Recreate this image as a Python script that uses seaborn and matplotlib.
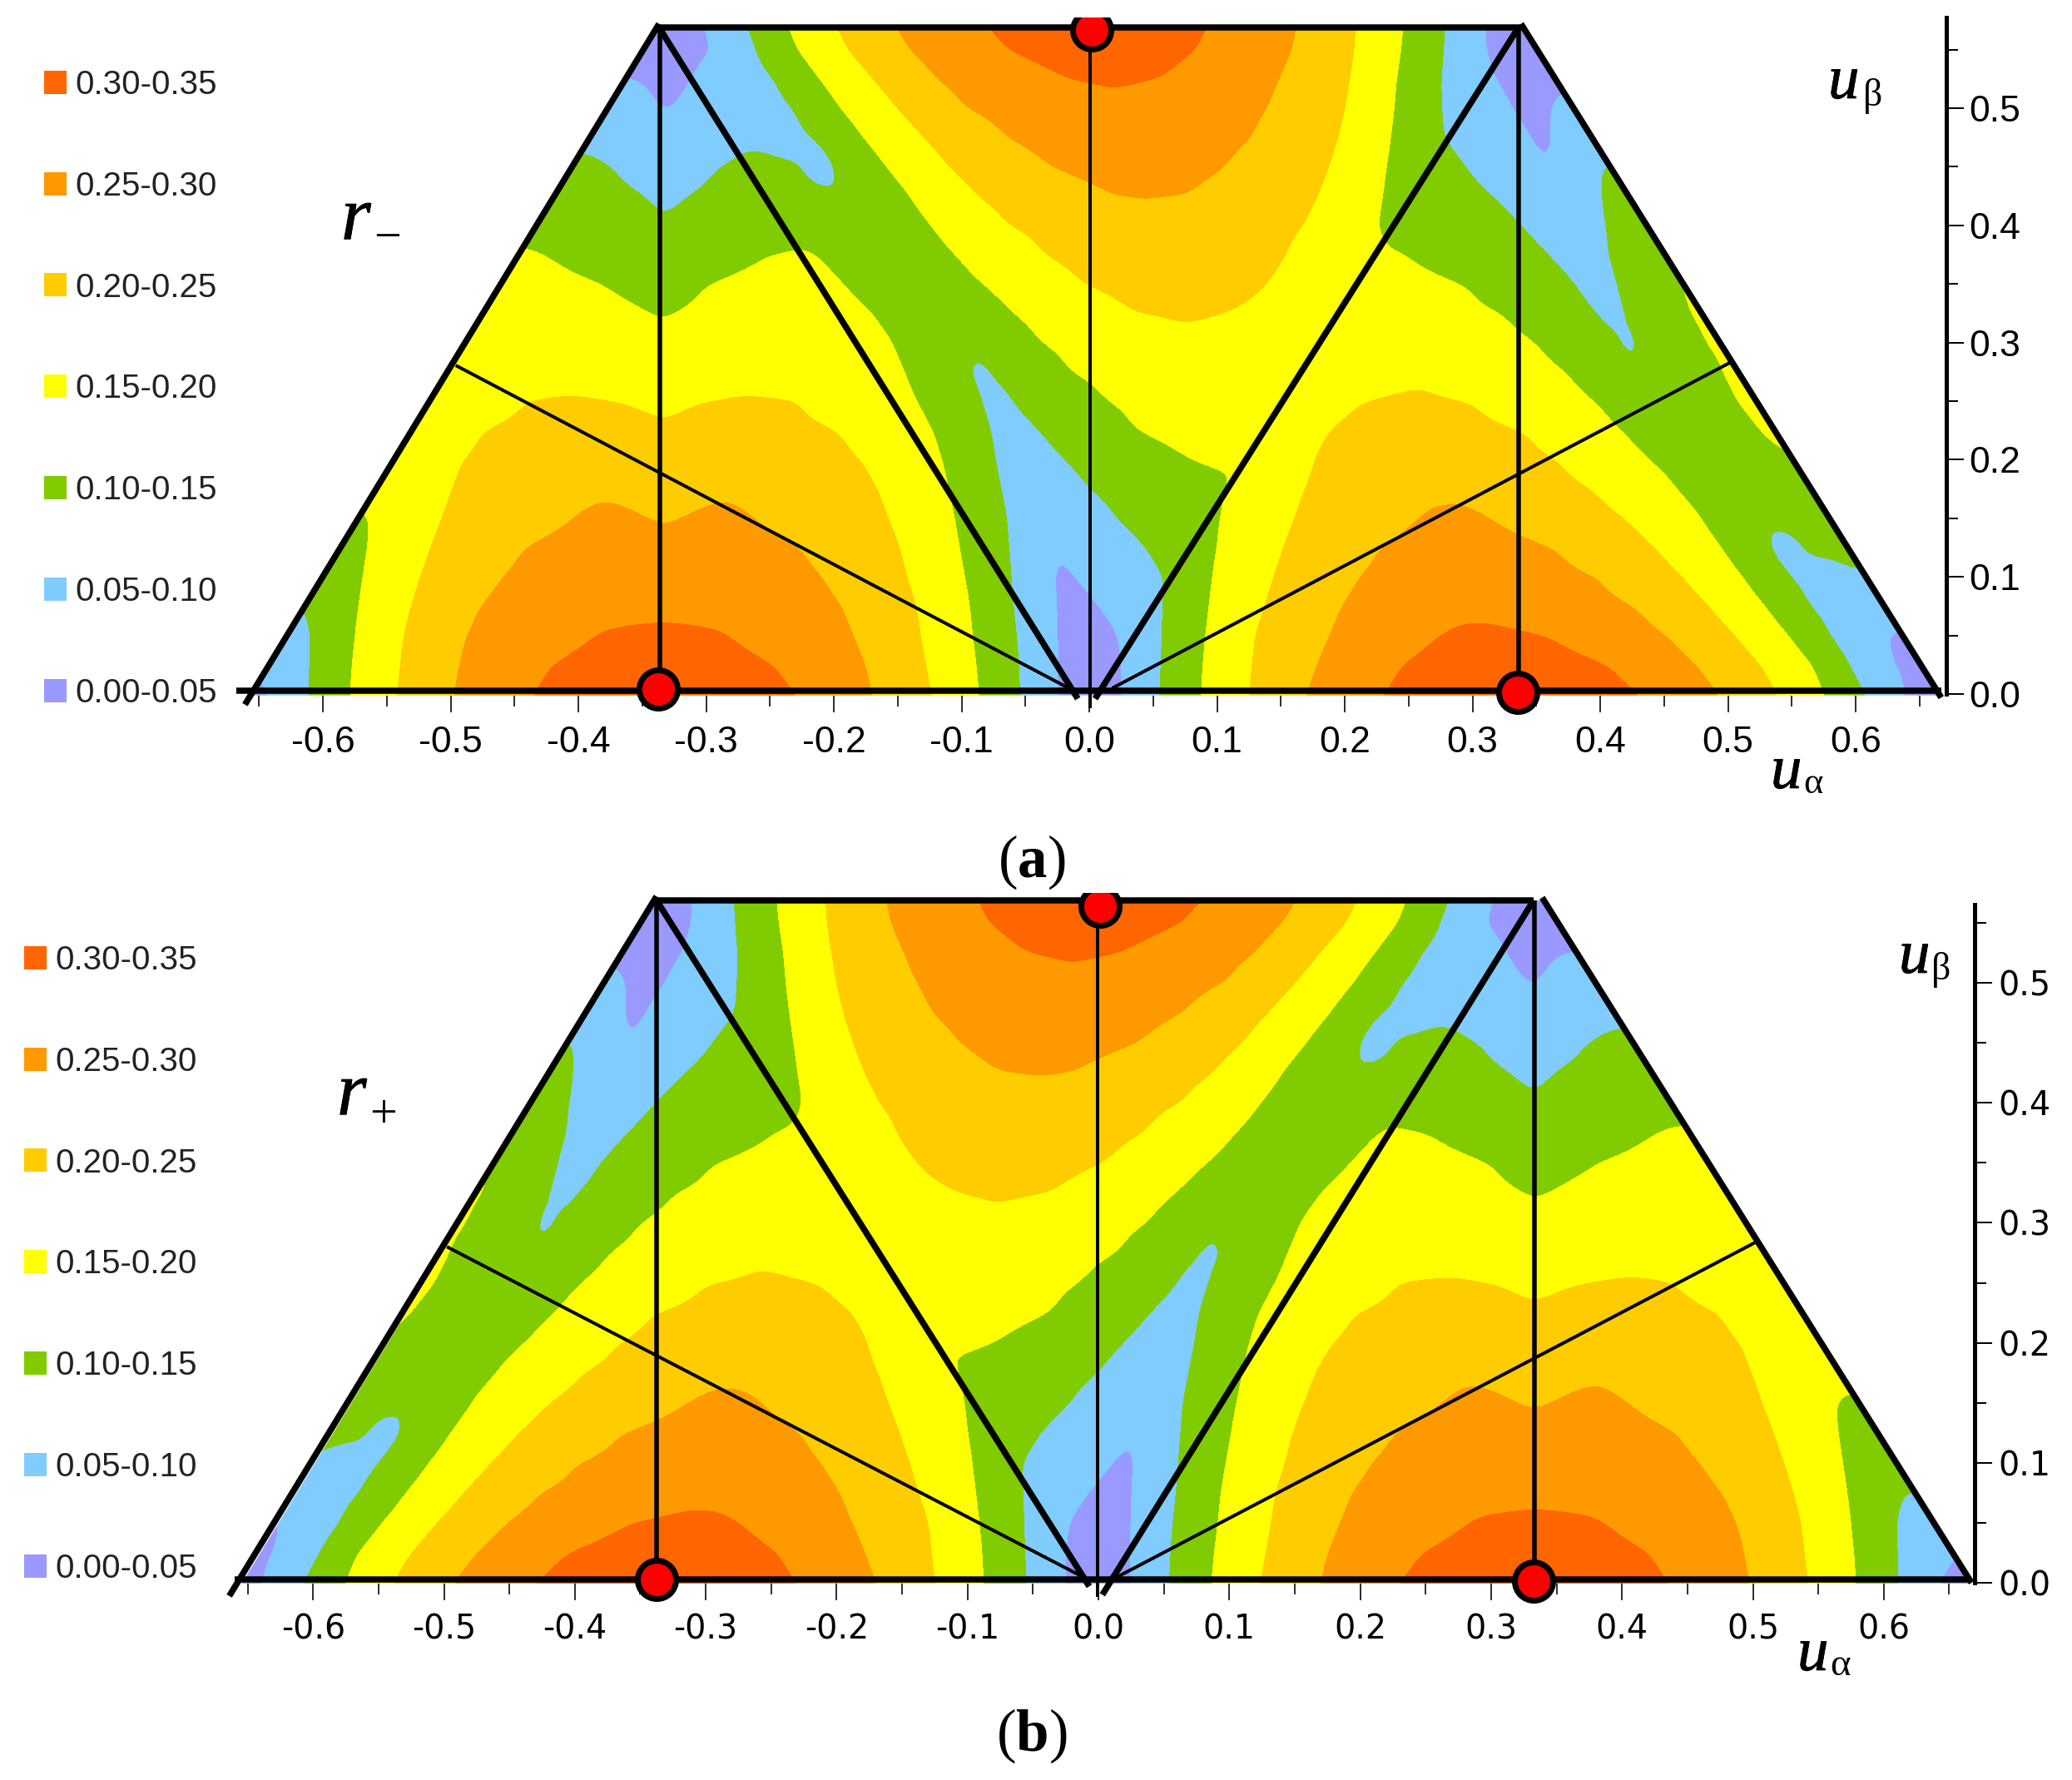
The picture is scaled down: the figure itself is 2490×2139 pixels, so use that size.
import numpy as np
import seaborn as sns
import matplotlib
matplotlib.use('Agg')
import matplotlib.pyplot as plt
import matplotlib.patheffects as pe
from matplotlib.patches import Patch, Polygon

W, H = 2490, 2139

# band edges and colours
levels = [0, 0.05, 0.10, 0.15, 0.20, 0.25, 0.30, 0.36]
band_labels = ['0.00-0.05', '0.05-0.10', '0.10-0.15', '0.15-0.20', '0.20-0.25', '0.25-0.30', '0.30-0.35']
band_colors = ['#9999ff', '#80ccff', '#80cc00', '#ffff00', '#ffcc00', '#ff9900', '#ff6600']

row_y = [-0.002, 0.025, 0.05, 0.075, 0.10, 0.125, 0.15, 0.175, 0.195, 0.20, 0.225, 0.25, 0.275, 0.30, 0.325, 0.35, 0.375, 0.40, 0.425, 0.45, 0.475, 0.50, 0.525, 0.55, 0.58]
row_00 = [(-.667,.03),(-.64,.05),(-.611,.10),(-.579,.15),(-.5425,.20),(-.498,.25),(-.438,.30),(-.333,.345),(-.2266,.30),(-.169,.25),(-.123,.20),(-.086,.15),(-.054,.10),(-.025,.05),(0,.02),(.026,.05),(.0547,.10),(.0873,.15),(.1244,.20),(.169,.25),(.2275,.30),(.333,.345),(.4346,.30),(.4946,.25),(.54,.20),(.5766,.15),(.6084,.10),(.6365,.05),(.667,.03)]
row_02 = [(-.653,.05),(-.6097,.10),(-.5775,.15),(-.5396,.20),(-.4941,.25),(-.4223,.30),(-.333,.33),(-.2455,.30),(-.1746,.25),(-.1277,.20),(-.0881,.15),(-.055,.10),(-.026,.05),(0,.025),(.0264,.05),(.056,.10),(.0886,.15),(.127,.20),(.178,.25),(.2436,.30),(.32,.33),(.4073,.30),(.4756,.25),(.5255,.20),(.5668,.15),(.5948,.10),(.6254,.05),(.66,.04)]
row_05 = [(-.64,.07),(-.6085,.10),(-.575,.15),(-.5373,.20),(-.489,.25),(-.387,.30),(-.333,.312),(-.283,.30),(-.1835,.25),(-.1316,.20),(-.091,.15),(-.0566,.10),(-.0267,.05),(0,.03),(.024,.05),(.0569,.10),(.0907,.15),(.129,.20),(.1876,.25),(.273,.30),(.31,.312),(.358,.30),(.452,.25),(.5056,.20),(.548,.15),(.5785,.10),(.618,.05),(.65,.045)]
row_07 = [(-.615,.098),(-.5719,.15),(-.5313,.20),(-.4785,.25),(-.38,.29),(-.333,.285),(-.285,.29),(-.192,.25),(-.1347,.20),(-.0931,.15),(-.0593,.10),(-.028,.05),(-.01,.04),(.0088,.05),(.0586,.10),(.0932,.15),(.1368,.20),(.1961,.25),(.29,.29),(.4274,.25),(.4853,.20),(.5296,.15),(.562,.10),(.62,.06)]
row_10 = [(-.60,.12),(-.568,.15),(-.5244,.20),(-.4612,.25),(-.38,.275),(-.333,.268),(-.285,.275),(-.2076,.25),(-.142,.20),(-.097,.15),(-.0608,.10),(-.030,.05),(-.02,.045),(-.009,.05),(.06,.10),(.0958,.15),(.1436,.20),(.21,.25),(.29,.275),(.3996,.25),(.4645,.20),(.512,.15),(.546,.10),(.58,.08),(.607,.095)]
row_12 = [(-.587,.135),(-.5637,.15),(-.5166,.20),(-.4443,.25),(-.38,.27),(-.333,.258),(-.285,.27),(-.2247,.25),(-.1472,.20),(-.1012,.15),(-.0625,.10),(-.03,.05),(-.025,.05),(.045,.10),(.1003,.15),(.1511,.20),(.226,.25),(.29,.27),(.366,.25),(.443,.20),(.4954,.15),(.5316,.10),(.545,.085),(.56,.10),(.595,.12)]
row_15 = [(-.572,.145),(-.5615,.15),(-.508,.20),(-.4045,.25),(-.38,.2655),(-.344,.25),(-.333,.248),(-.321,.25),(-.285,.2655),(-.2625,.25),(-.1557,.20),(-.105,.15),(-.0645,.10),(-.03,.054),(.0208,.10),(.06,.125),(.1036,.15),(.1596,.20),(.2567,.25),(.289,.2655),(.3147,.25),(.4196,.20),(.479,.15),(.525,.097),(.5785,.13)]
row_17 = [(-.5562,.16),(-.5003,.20),(-.38,.24),(-.333,.228),(-.285,.24),(-.1635,.20),(-.1094,.15),(-.0697,.10),(-.04,.07),(-.0007,.10),(.06,.13),(.1091,.15),(.1668,.20),(.27,.24),(.394,.20),(.4587,.15),(.51,.115),(.5642,.135)]
row_19 = [(-.544,.165),(-.4945,.20),(-.38,.228),(-.333,.213),(-.28,.228),(-.173,.20),(-.113,.15),(-.0742,.10),(-.047,.08),(-.0155,.10),(.06,.14),(.118,.15),(.1735,.20),(.27,.228),(.3715,.20),(.442,.15),(.495,.125),(.552,.14)]
row_20 = [(-.5407,.165),(-.4925,.20),(-.38,.225),(-.333,.21),(-.28,.225),(-.177,.20),(-.1143,.15),(-.0748,.10),(-.05,.082),(-.0184,.10),(.0788,.15),(.1752,.20),(.27,.225),(.368,.20),(.4375,.15),(.49,.125),(.548,.15),(.5514,.151)]
row_22 = [(-.527,.168),(-.4769,.20),(-.39,.214),(-.333,.204),(-.275,.214),(-.1935,.20),(-.1212,.15),(-.0788,.10),(-.06,.088),(-.0384,.10),(.0339,.15),(.1876,.20),(.26,.214),(.3417,.20),(.4156,.15),(.47,.115),(.5244,.15),(.5368,.155)]
row_25 = [(-.5186,.17),(-.4406,.20),(-.405,.204),(-.3667,.20),(-.333,.193),(-.304,.20),(-.27,.204),(-.228,.20),(-.1335,.15),(-.086,.10),(-.07,.09),(-.0593,.10),(.013,.15),(.0756,.165),(.2137,.20),(.256,.204),(.3,.20),(.396,.15),(.45,.11),(.506,.15),(.526,.16)]
row_27 = [(-.503,.165),(-.44,.19),(-.333,.175),(-.225,.19),(-.1427,.15),(-.0945,.10),(-.085,.093),(-.0749,.10),(-.0163,.15),(.0756,.18),(.16,.18),(.26,.195),(.3743,.15),(.4304,.10),(.435,.093),(.44,.10),(.4945,.15),(.5085,.157)]
row_30 = [(-.487,.165),(-.44,.185),(-.333,.158),(-.225,.185),(-.1524,.15),(-.11,.11),(-.09,.102),(-.039,.15),(.0756,.19),(.16,.175),(.26,.185),(.3508,.15),(.4159,.10),(.42,.09),(.4287,.10),(.4808,.15),(.492,.155)]
row_32 = [(-.4717,.165),(-.42,.175),(-.3423,.15),(-.333,.148),(-.3264,.15),(-.225,.178),(-.1687,.15),(-.11,.11),(-.0602,.15),(.0358,.20),(.0756,.205),(.1062,.20),(.2,.175),(.3238,.15),(.396,.10),(.41,.09),(.42,.10),(.4677,.15),(.4808,.155)]
row_35 = [(-.456,.165),(-.382,.15),(-.333,.13),(-.3006,.15),(-.225,.168),(-.192,.15),(-.14,.115),(-.0834,.15),(-.0056,.20),(.0756,.225),(.139,.20),(.2296,.165),(.2964,.15),(.38,.10),(.40,.085),(.4134,.10),(.46,.15),(.4686,.153)]
row_37 = [(-.4423,.153),(-.4254,.15),(-.38,.135),(-.333,.117),(-.2508,.15),(-.2215,.153),(-.2126,.15),(-.16,.115),(-.1042,.15),(-.0367,.20),(.06,.232),(.1554,.20),(.2296,.152),(.2476,.15),(.359,.10),(.385,.085),(.4078,.10),(.4502,.15)]
row_40 = [(-.434,.14),(-.333,.105),(-.225,.14),(-.18,.108),(-.1231,.15),(-.0645,.20),(.044,.2304),(.17,.20),(.224,.15),(.28,.125),(.338,.10),(.37,.085),(.4045,.10),(.4376,.115)]
row_42 = [(-.4163,.125),(-.3459,.10),(-.333,.09),(-.316,.10),(-.25,.122),(-.19,.097),(-.14,.15),(-.0886,.20),(.02,.25),(.044,.252),(.0756,.25),(.1805,.20),(.228,.15),(.3166,.10),(.36,.08),(.4013,.10),(.4231,.11)]
row_45 = [(-.4026,.11),(-.3726,.10),(-.333,.07),(-.2919,.10),(-.26,.108),(-.2264,.10),(-.21,.085),(-.1987,.10),(-.159,.15),(-.1107,.20),(-.0315,.25),(.044,.275),(.1069,.25),(.189,.20),(.2315,.15),(.2948,.10),(.352,.052),(.36,.05),(.372,.055),(.398,.10),(.4104,.105)]
row_47 = [(-.3857,.09),(-.333,.06),(-.27,.095),(-.24,.09),(-.2116,.10),(-.1775,.15),(-.1296,.20),(-.066,.25),(.03,.285),(.129,.25),(.196,.20),(.2358,.15),(.2763,.10),(.3436,.05),(.354,.045),(.3635,.05),(.3974,.08)]
row_50 = [(-.3667,.08),(-.3388,.05),(-.333,.048),(-.325,.05),(-.2287,.10),(-.1955,.15),(-.1505,.20),(-.0984,.25),(.02,.29),(.1407,.25),(.2013,.20),(.2388,.15),(.275,.10),(.329,.05),(.345,.043),(.3616,.05),(.38,.06)]
row_52 = [(-.357,.05),(-.333,.04),(-.3108,.05),(-.2447,.10),(-.2117,.15),(-.1694,.20),(-.1205,.25),(-.0163,.30),(.02,.305),(.0564,.30),(.1495,.25),(.2046,.20),(.2406,.15),(.275,.10),(.3147,.05),(.34,.04),(.359,.045)]
row_55 = [(-.3476,.03),(-.2918,.05),(-.2609,.10),(-.2293,.15),(-.1896,.20),(-.142,.25),(-.066,.30),(.01,.33),(.0855,.30),(.1596,.25),(.208,.20),(.2443,.15),(.2775,.10),(.3075,.05),(.3524,.03)]
row_57 = [(-.34,.03),(-.3,.05),(-.2713,.10),(-.239,.15),(-.2023,.20),(-.1576,.25),(-.0918,.30),(.003,.335),(.0988,.30),(.1642,.25),(.209,.20),(.2467,.15),(.2792,.10),(.3075,.05),(.34,.03)]
rows_minus = [row_00, row_02, row_05, row_07, row_10, row_12, row_15, row_17, row_19, row_20, row_22, row_25, row_27,
              row_30, row_32, row_35, row_37, row_40, row_42, row_45, row_47, row_50, row_52, row_55, row_57]
# the r_+ map is the same map flipped left to right
rows_plus = [[(-u, r) for u, r in reversed(row)] for row in rows_minus]

x_major = [-0.6, -0.5, -0.4, -0.3, -0.2, -0.1, 0.0, 0.1, 0.2, 0.3, 0.4, 0.5, 0.6]
x_minor = [-0.65, -0.55, -0.45, -0.35, -0.25, -0.15, -0.05, 0.05, 0.15, 0.25, 0.35, 0.45, 0.55, 0.65]
x_labels = ['-0.6', '-0.5', '-0.4', '-0.3', '-0.2', '-0.1', '0.0', '0.1', '0.2', '0.3', '0.4', '0.5', '0.6']
y_major = [0.0, 0.1, 0.2, 0.3, 0.4, 0.5]
y_minor = [0.05, 0.15, 0.25, 0.35, 0.45, 0.55]
y_labels = ['0.0', '0.1', '0.2', '0.3', '0.4', '0.5']

# panel a geometry, data units
a_trap = [(-0.6575, -0.0012), (-0.3368, 0.5689), (0.338, 0.5689), (0.6645, -0.0012)]
a_thick = [([-0.661, -0.3368], [-0.009, 0.572]), ([0.338, 0.667], [0.572, -0.003]),
           ([-0.3368, 0.338], [0.5689, 0.5689]), ([-0.668, 0.667], [0.003, 0.003]),
           ([-0.3368, -0.009], [0.5689, -0.004]), ([0.336, 0.0046], [0.5689, -0.004])]
a_thin = [([-0.336, -0.336], [0.5689, 0.003]), ([0.0007, 0.0007], [0.5689, -0.012]), ([0.336, 0.336], [0.5689, -0.016]),
          ([-0.496, -0.016], [0.2805, 0.005]), ([0.5026, 0.018], [0.2834, 0.005])]
a_dots_x = [-0.3375, 0.002, 0.3355]
a_dots_y = [0.004, 0.5668, 0.0014]

# panel b geometry, data units
b_trap = [(-0.6545, -0.0007), (-0.3376, 0.5687), (0.339, 0.5687), (0.667, -0.0007)]
b_thick = [([-0.664, -0.3376], [-0.011, 0.572]), ([0.339, 0.667], [0.571, 0.0]),
           ([-0.3376, 0.3325], [0.5687, 0.5687]), ([-0.66, 0.667], [0.0028, 0.0028]),
           ([-0.3376, -0.007], [0.5687, -0.003]), ([0.3325, 0.003], [0.5687, -0.01])]
b_thin = [([-0.3376, -0.3376], [0.5687, 0.003]), ([-0.0006, -0.0006], [0.5687, -0.012]), ([0.333, 0.333], [0.5687, 0.003]),
          ([-0.4977, -0.012], [0.280, 0.005]), ([0.5016, 0.0146], [0.2835, 0.005])]
b_dots_x = [-0.3376, 0.0013, 0.3325]
b_dots_y = [0.003, 0.5638, 0.0014]

sns.set_theme(style='white')
plt.rcParams['font.family'] = ['Liberation Sans', 'DejaVu Sans']
plt.rcParams['mathtext.fontset'] = 'custom'
plt.rcParams['mathtext.rm'] = 'Liberation Serif'
plt.rcParams['mathtext.bf'] = 'Liberation Serif:bold'
plt.rcParams['mathtext.it'] = 'Liberation Serif:italic'
plt.rcParams['axes.unicode_minus'] = False

fig = plt.figure(figsize=(W / 100, H / 100), dpi=100)
pt = 0.72  # one pixel in points
heavy = [pe.withStroke(linewidth=0.6, foreground='black')]


def px_text(x, y, s, size, **kw):
    kw.setdefault('va', 'baseline')
    kw.setdefault('ha', 'left')
    kw.setdefault('family', 'Liberation Serif')
    fig.text(x / W, 1 - y / H, s, fontsize=size, color='black', **kw)


def blur(values, sigma, axis):
    # takes the reading noise out of the contour edges, sigma in grid steps
    half = int(3 * sigma)
    kernel = np.exp(-0.5 * (np.arange(-half, half + 1) / sigma) ** 2)
    kernel = kernel / kernel.sum()
    pad = [(0, 0), (0, 0)]
    pad[axis] = (half, half)
    padded = np.pad(values, pad, mode='edge')
    return np.apply_along_axis(lambda v: np.convolve(v, kernel, mode='valid'), axis, padded)


def build_field(rows):
    grid_x = np.linspace(-0.70, 0.70, 701)
    grid_y = np.linspace(row_y[0], row_y[-1], 583)
    coarse = np.array([np.interp(grid_x, [p[0] for p in row], [p[1] for p in row]) for row in rows])
    fine = np.array([np.interp(grid_y, row_y, coarse[:, j]) for j in range(len(grid_x))]).T
    fine = blur(fine, 7, 0)
    fine = blur(fine, 3, 1)
    return grid_x, grid_y, fine


def draw_panel(x0, xk, y0, yk, ybot, ytop, spine_x, spine_top, rows, trap, thick, thin, dots_x, dots_y, tick_font, tick_size, xpad):
    left, right = x0 - 0.70 * xk, x0 + 0.70 * xk
    top, bottom = y0 - ytop * yk, y0 - ybot * yk
    ax = fig.add_axes([left / W, 1 - bottom / H, (right - left) / W, (bottom - top) / H])
    ax.set_facecolor('none')

    grid_x, grid_y, field = build_field(rows)
    cs = ax.contourf(grid_x, grid_y, field, levels=levels, colors=band_colors)
    cs.set_clip_path(Polygon(trap, transform=ax.transData))

    for xs, ys in thick:
        sns.lineplot(x=xs, y=ys, ax=ax, color='black', linewidth=7.5 * pt, sort=False, estimator=None, clip_on=False, solid_capstyle='butt')
    for i, (xs, ys) in enumerate(thin):
        lw = 4 * pt if i in (1, 3, 4) else 5.5 * pt
        sns.lineplot(x=xs, y=ys, ax=ax, color='black', linewidth=lw, sort=False, estimator=None, clip_on=False, solid_capstyle='butt')

    # the top dot is cut by the plot frame, the two others are not
    for i in range(3):
        sns.scatterplot(x=[dots_x[i]], y=[dots_y[i]], ax=ax, color='#ff0000', s=(46 * pt) ** 2,
                        edgecolor='black', linewidth=7 * pt, zorder=6, clip_on=(i == 1))

    ax.set_xlim(-0.70, 0.70)
    ax.set_ylim(ybot, ytop)
    ax.set_xlabel('')
    ax.set_ylabel('')
    for side in ['left', 'top', 'bottom']:
        ax.spines[side].set_visible(False)
    ax.spines['right'].set_position(('data', spine_x))
    ax.spines['right'].set_bounds(0, spine_top)
    ax.spines['right'].set_linewidth(5 * pt)
    ax.spines['right'].set_color('black')
    ax.yaxis.tick_right()
    ax.set_xticks(x_major)
    ax.set_xticklabels(x_labels)
    ax.set_xticks(x_minor, minor=True)
    ax.set_yticks(y_major)
    ax.set_yticklabels(y_labels)
    ax.set_yticks(y_minor, minor=True)
    ax.tick_params(axis='x', which='major', bottom=True, length=20 * pt, width=1.6 * pt, color='black', pad=xpad,
                   labelsize=tick_size, labelcolor='black', labelfontfamily=tick_font)
    ax.tick_params(axis='x', which='minor', bottom=True, length=12.5 * pt, width=1.6 * pt, color='black')
    ax.tick_params(axis='y', which='major', right=True, left=False, length=21 * pt, width=2 * pt, color='black', pad=5,
                   labelsize=tick_size, labelcolor='black', labelfontfamily=tick_font)
    ax.tick_params(axis='y', which='minor', right=True, left=False, length=14 * pt, width=2 * pt, color='black')
    return ax


draw_panel(1309, 1535, 834, 1408, -0.0012, 0.5774, 0.6707, 0.5774, rows_minus, a_trap, a_thick, a_thin,
           a_dots_x, a_dots_y, 'Liberation Sans', 32, 12)
draw_panel(1320, 1573, 1902, 1442, -0.0007, 0.575, 0.6696, 0.565, rows_plus, b_trap, b_thick, b_thin,
           b_dots_x, b_dots_y, 'DejaVu Sans', 28.5, 11)

# legends, highest band on top
for anchor_x, anchor_y in [(53, 83), (29, 1135)]:
    handles = [Patch(facecolor=c, edgecolor='none') for c in band_colors[::-1]]
    leg = fig.legend(handles, band_labels[::-1], loc='upper left', bbox_to_anchor=(anchor_x / W, 1 - anchor_y / H),
                     frameon=False, fontsize=29, borderpad=0, borderaxespad=0, handlelength=0.67, handleheight=0.69,
                     handletextpad=0.27, labelspacing=2.08, labelcolor='#222222')

# panel names and axis names
px_text(410, 288, r'$\mathit{r}$', 66, path_effects=heavy)
px_text(449, 302, '\u2212', 42)
px_text(405, 1340, r'$\mathit{r}$', 66, path_effects=heavy)
px_text(444, 1355, '+', 42)
px_text(2197, 118, r'$\mathit{u}$', 54, path_effects=heavy)
px_text(2239, 127, '\u03b2', 33)
px_text(2128, 947, r'$\mathit{u}$', 54, path_effects=heavy)
px_text(2167, 953, '\u03b1', 32)
px_text(2282, 1169, r'$\mathit{u}$', 54, path_effects=heavy)
px_text(2321, 1177, '\u03b2', 33)
px_text(2160, 2007, r'$\mathit{u}$', 54, path_effects=heavy)
px_text(2199, 2013, '\u03b1', 34)
px_text(1199, 1054, r'$\mathrm{(}\mathbf{a}\mathrm{)}$', 51)
px_text(1197, 2104, r'$\mathrm{(}\mathbf{b}\mathrm{)}$', 51)

fig.savefig('out.png', dpi=100, facecolor='white')
